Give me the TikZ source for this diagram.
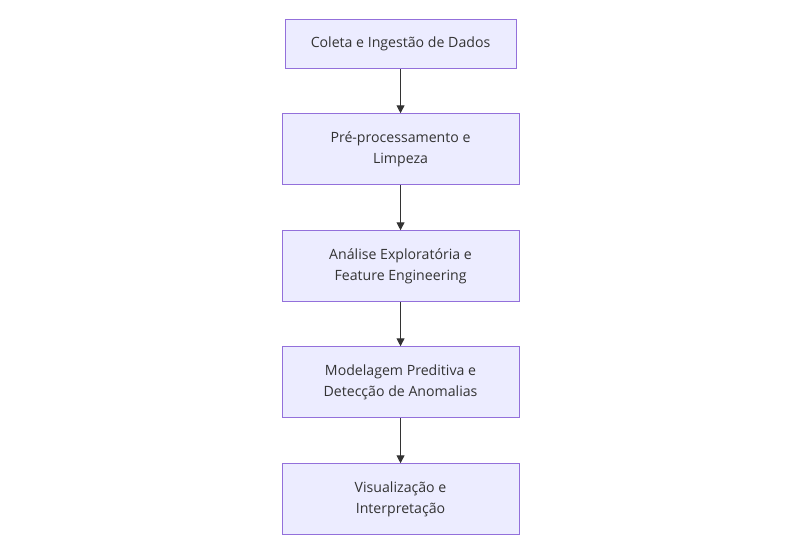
\documentclass[tikz,border=0pt]{standalone}
\usepackage{fontspec}
\setmainfont{Open Sans}
\usetikzlibrary{arrows.meta, positioning}
\definecolor{mfill}{HTML}{ECECFF}
\definecolor{mline}{HTML}{9370DB}
\definecolor{mtext}{HTML}{333333}
\tikzset{
  >=Latex,
  font=\fontsize{10.6}{15.75}\selectfont,
  stage/.style={
    draw=mline, fill=mfill, line width=0.75pt, text=mtext,
    align=center, inner sep=0pt,
    minimum width=177.75pt, minimum height=53.25pt
  },
  flow/.style={-{Triangle[length=6pt,width=6pt]}, line width=0.75pt, draw=mtext}
}
\begin{document}
\begin{tikzpicture}
  \useasboundingbox (0,0) rectangle (600pt,-414pt);
  \node[stage,minimum width=173.25pt,minimum height=36.75pt] (coleta) at (300.4pt,-33.2pt) {Coleta e Ingestão de Dados};
  \node[stage,below=33pt of coleta] (prep) {Pré-processamento e\\Limpeza};
  \node[stage,below=33.75pt of prep] (analise) {Análise Exploratória e\\Feature Engineering};
  \node[stage,below=33pt of analise] (modelo) {Modelagem Preditiva e\\Detecção de Anomalias};
  \node[stage,below=33.75pt of modelo] (visual) {Visualização e\\Interpretação};
  \draw[flow] (coleta) -- (prep);
  \draw[flow] (prep) -- (analise);
  \draw[flow] (analise) -- (modelo);
  \draw[flow] (modelo) -- (visual);
\end{tikzpicture}
\end{document}
